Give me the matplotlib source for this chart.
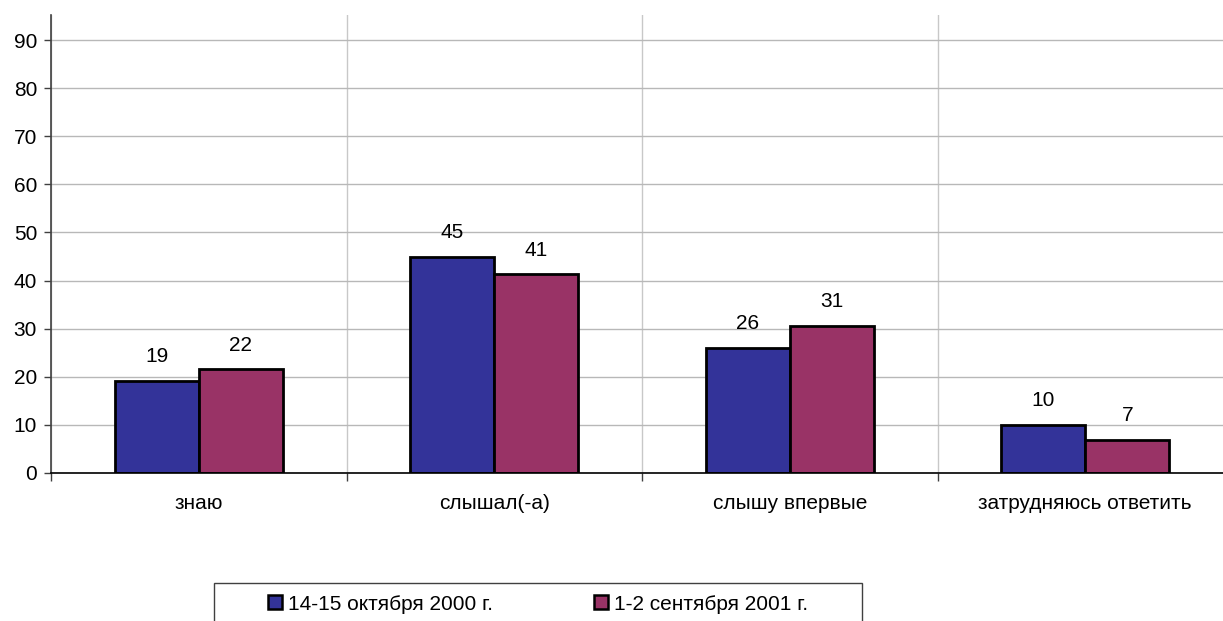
import matplotlib
matplotlib.use("Agg")
import matplotlib.pyplot as plt
from matplotlib.patches import Rectangle
import numpy as np

categories = ["знаю", "слышал(-а)", "слышу впервые", "затрудняюсь ответить"]
series_names = ["14-15 октября 2000 г.", "1-2 сентября 2001 г."]
oct_2000 = [19.2, 45.0, 26.0, 10.0]
sep_2001 = [21.6, 41.3, 30.6, 6.9]
yticks = [0, 10, 20, 30, 40, 50, 60, 70, 80, 90]

plt.rcParams['font.family'] = ['Liberation Sans', 'DejaVu Sans']

W, H = 1223, 621
fig = plt.figure(figsize=(W / 100, H / 100), dpi=100)
left, right, top, bottom = 51, 1233, 15, 473
ax = fig.add_axes([left / W, 1 - bottom / H, (right - left) / W, (bottom - top) / H])

FS = 15
colors = ["#333399", "#993366"]
x = np.arange(len(categories))
bw = 0.285
for i, (vals, c, name) in enumerate(zip([oct_2000, sep_2001], colors, series_names)):
    pos = x + (i - 0.5) * bw
    ax.bar(pos, vals, width=bw, color=c, edgecolor="black", linewidth=2,
           label=name, zorder=3)
    for p, v in zip(pos, vals):
        ax.text(p, v + 3.0, f"{v:.0f}", ha="center", va="bottom", fontsize=FS, zorder=4)

ax.set_xlim(-0.5, len(categories) - 0.5)
ax.set_ylim(0, 95.2)
ax.set_yticks(yticks)
ax.tick_params(axis="y", labelsize=FS, length=5, width=1, color="#404040", pad=5)

bounds = np.arange(len(categories) + 1) - 0.5
ax.set_xticks(bounds)
ax.set_xticklabels([])
ax.set_xticks(x, minor=True)
ax.set_xticklabels(categories, minor=True, fontsize=FS)
ax.tick_params(axis="x", which="major", length=6, width=1, color="#404040")
ax.tick_params(axis="x", which="minor", length=0, pad=15)

ax.grid(True, axis="y", color="#b8b8b8", linewidth=1, zorder=0)
ax.grid(True, axis="x", which="major", color="#c8c8c8", linewidth=1, zorder=0)

for s in ["top", "right"]:
    ax.spines[s].set_visible(False)
ax.spines["left"].set_color("#404040")
ax.spines["left"].set_linewidth(1.2)
ax.spines["bottom"].set_color("black")
ax.spines["bottom"].set_linewidth(1.2)
ax.spines["bottom"].set_zorder(5)

# legend frame (cropped at the bottom, as in the reference)
lx0, lx1, ly0, ly1 = 214, 862, 583, 630
fig.patches.append(Rectangle((lx0 / W, 1 - ly1 / H), (lx1 - lx0) / W, (ly1 - ly0) / H,
                             transform=fig.transFigure, fill=False, edgecolor="#404040",
                             linewidth=1))
leg = fig.legend(loc="center left", bbox_to_anchor=(268 / W, 1 - 604 / H),
                 ncol=2, frameon=False, fontsize=FS,
                 handlelength=0.67, handleheight=0.67, handletextpad=0.29,
                 columnspacing=4.85, borderaxespad=0, borderpad=0)
for h in leg.legend_handles:
    h.set_linewidth(1.8)

fig.savefig("out.png", dpi=100)
